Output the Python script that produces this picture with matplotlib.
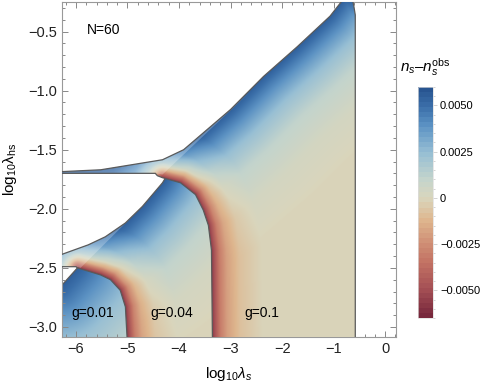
import numpy as np
import matplotlib
matplotlib.use("Agg")
import matplotlib.pyplot as plt
from matplotlib.patches import Polygon
from matplotlib.colors import LinearSegmentedColormap, Normalize
from matplotlib.cm import ScalarMappable
from matplotlib.ticker import MultipleLocator

plt.rcParams['font.family'] = ['Liberation Sans', 'DejaVu Sans']
plt.rcParams['mathtext.fontset'] = 'custom'
plt.rcParams['mathtext.rm'] = 'Liberation Sans'
plt.rcParams['mathtext.it'] = 'Liberation Sans:italic'

# colour scale (n_s - n_s^obs)
cbar_vals = [-0.0065, -0.0050, -0.0035, -0.0025, -0.0012, 0.0, 0.0010, 0.0025, 0.0040, 0.0050, 0.0060]
cbar_rgb = [(120, 40, 60), (165, 80, 85), (195, 115, 100), (207, 142, 117), (222, 182, 142),
            (217, 214, 189), (196, 212, 204), (150, 190, 212), (92, 146, 195), (60, 112, 170), (40, 85, 145)]
vmin, vmax = -0.0065, 0.0060

# how n_s - n_s^obs falls off away from the upper (blue) and lower (red) edges, distance in pixels
blue_dist = [0, 7, 18, 32, 52, 80, 115]
blue_val = [0.0060, 0.0052, 0.0040, 0.0026, 0.0013, 0.0005, 0.0001]
red_dist = [0, 3, 8, 15, 28, 50]
red_val = [-0.0058, -0.0048, -0.0032, -0.0020, -0.0009, -0.0002]

# g = 0.01 region
a_x = [-6.30, -5.97, -5.52, -4.90, -4.90, -6.30]
a_y = [-2.66, -2.50, -2.52, -2.60, -3.15, -3.15]
a_blue_x = [-6.30, -5.97]
a_blue_y = [-2.66, -2.50]
a_red_x = []
a_red_y = []

# g = 0.04 region
b_x = [-6.30, -5.76, -5.43, -5.04, -4.71, -4.32, -4.10, -3.20, -3.20,
       -5.00, -5.04, -5.14, -5.33, -5.52, -5.97, -6.00, -6.30]
b_y = [-2.39, -2.305, -2.237, -2.12, -1.98, -1.78, -1.62, -1.62, -3.15,
       -3.15, -2.83, -2.69, -2.60, -2.56, -2.50, -2.49, -2.49]
b_blue_x = [-6.30, -5.76, -5.43, -5.04, -4.71, -4.32, -4.10]
b_blue_y = [-2.39, -2.305, -2.237, -2.12, -1.98, -1.78, -1.62]
b_red_x = [-5.00, -5.04, -5.14, -5.33, -5.52, -5.97]
b_red_y = [-3.15, -2.83, -2.69, -2.60, -2.56, -2.50]

# g = 0.1 region
c_x = [-6.30, -5.52, -4.32, -3.91, -3.00, -2.36, -1.71, -1.07, -0.80, -0.64, -0.61, -0.58,
       -0.58, -3.35, -3.37, -3.43, -3.53, -3.68, -3.97, -4.32, -4.42, -4.46, -6.30]
c_y = [-1.686, -1.670, -1.585, -1.50, -1.16, -0.88, -0.63, -0.37, -0.22, -0.22, -0.28, -0.36,
       -3.15, -3.15, -2.35, -2.14, -2.01, -1.88, -1.78, -1.737, -1.72, -1.70, -1.70]
c_blue_x = [-6.30, -5.52, -4.32, -3.91, -3.00, -2.36, -1.71, -1.07, -0.80, -0.64]
c_blue_y = [-1.686, -1.670, -1.585, -1.50, -1.16, -0.88, -0.63, -0.37, -0.22, -0.22]
c_red_x = [-3.35, -3.37, -3.43, -3.53, -3.68, -3.97, -4.32]
c_red_y = [-3.15, -2.35, -2.14, -2.01, -1.88, -1.78, -1.737]

# lighter translucent slivers of the g=0.04 and g=0.1 regions
sliver_b_x = [-6.30, -5.76, -5.43, -5.04, -4.71, -5.91, -6.00, -6.30]
sliver_b_y = [-2.39, -2.305, -2.237, -2.12, -1.98, -2.50, -2.49, -2.49]
sliver_c_x = [-6.30, -5.52, -4.32, -3.91, -3.00, -2.62, -4.32, -4.46, -6.30]
sliver_c_y = [-1.686, -1.670, -1.585, -1.50, -1.16, -1.01, -1.71, -1.70, -1.70]

labels = ['g=0.01', 'g=0.04', 'g=0.1']
label_x = [-5.68, -4.15, -2.40]
label_y = [-2.88, -2.88, -2.88]

xlim = (-6.27, 0.21)
ylim = (-3.085, -0.25)
ax_w, ax_h = 334, 335  # axes size in pixels

cmap = LinearSegmentedColormap.from_list(
    'rbt', [((v - vmin) / (vmax - vmin), tuple(c / 255 for c in rgb)) for v, rgb in zip(cbar_vals, cbar_rgb)])
norm = Normalize(vmin, vmax)

sx = ax_w / (xlim[1] - xlim[0])
sy = ax_h / (ylim[1] - ylim[0])
gx, gy = np.meshgrid(np.linspace(xlim[0], xlim[1], 2 * ax_w), np.linspace(ylim[0], ylim[1], 2 * ax_h))


def dist_to_line(lx, ly):
    # pixel distance from every grid point to a polyline
    if len(lx) < 2:
        return np.full(gx.shape, 1e9)
    px, py = gx * sx, gy * sy
    best = np.full(gx.shape, 1e9)
    for i in range(len(lx) - 1):
        x0, y0, x1, y1 = lx[i] * sx, ly[i] * sy, lx[i + 1] * sx, ly[i + 1] * sy
        dx, dy = x1 - x0, y1 - y0
        t = np.clip(((px - x0) * dx + (py - y0) * dy) / (dx * dx + dy * dy), 0, 1)
        best = np.minimum(best, np.hypot(px - x0 - t * dx, py - y0 - t * dy))
    return best


fig = plt.figure(figsize=(4.87, 3.88), dpi=100)
ax = fig.add_axes([62 / 487, 1 - 337 / 388, ax_w / 487, ax_h / 388])

regions = [(a_x, a_y, a_blue_x, a_blue_y, a_red_x, a_red_y, 1.7),
           (b_x, b_y, b_blue_x, b_blue_y, b_red_x, b_red_y, 1.15),
           (c_x, c_y, c_blue_x, c_blue_y, c_red_x, c_red_y, 1.05)]
for k, (bx, by, blx, bly, rlx, rly, width) in enumerate(regions):
    blue = np.interp(dist_to_line(blx, bly) / width, blue_dist, blue_val)
    red = np.interp(dist_to_line(rlx, rly), red_dist, red_val)
    # close to the red edge the red side wins
    field = red + blue * (1 - red / red_val[0])
    clip = Polygon(np.column_stack([bx, by]), closed=True, facecolor='none', edgecolor='none')
    ax.add_patch(clip)
    im = ax.imshow(field, origin='lower', extent=(*xlim, *ylim), cmap=cmap, norm=norm,
                   interpolation='bilinear', aspect='auto', zorder=2 * k + 1)
    im.set_clip_path(clip)
    if k == 1:
        ax.add_patch(Polygon(np.column_stack([sliver_b_x, sliver_b_y]), closed=True,
                             facecolor='white', alpha=0.25, lw=0, zorder=2 * k + 1.2))
    if k == 2:
        ax.add_patch(Polygon(np.column_stack([sliver_c_x, sliver_c_y]), closed=True,
                             facecolor='white', alpha=0.25, lw=0, zorder=2 * k + 1.2))
    ax.add_patch(Polygon(np.column_stack([bx, by]), closed=True, fill=False, edgecolor='#5a5a5a',
                         lw=0.9, zorder=2 * k + 1.5))

for t, x, y in zip(labels, label_x, label_y):
    ax.text(x, y, t, ha='center', va='center', fontsize=10, zorder=8)
ax.text(-5.47, -0.49, 'N=60', ha='center', va='center', fontsize=10, zorder=8)

ax.set_xlim(*xlim)
ax.set_ylim(*ylim)
ax.xaxis.set_major_locator(MultipleLocator(1))
ax.xaxis.set_minor_locator(MultipleLocator(0.2))
ax.yaxis.set_major_locator(MultipleLocator(0.5))
ax.yaxis.set_minor_locator(MultipleLocator(0.1))
ax.tick_params(which='both', direction='in', top=True, right=True, color='#888888',
               labelsize=10.5, labelcolor='#222222', width=0.7)
ax.tick_params(which='major', length=4.5)
ax.tick_params(which='minor', length=2.5)
for s in ax.spines.values():
    s.set_color('#999999')
    s.set_linewidth(0.8)
ax.set_xlabel(r'log$_{10}\lambda_s$', fontsize=11)
ax.set_ylabel(r'log$_{10}$λ$_{\rm hs}$', fontsize=11)
ax.xaxis.set_label_coords(0.5, -0.085)
ax.yaxis.set_label_coords(-0.128, 0.5)

cax = fig.add_axes([418 / 487, 1 - 318 / 388, 15 / 487, 231 / 388])
cb = fig.colorbar(ScalarMappable(norm=norm, cmap=cmap.resampled(46)), cax=cax)
cb.set_ticks([0.005, 0.0025, 0.0, -0.0025, -0.005])
cb.set_ticklabels(['0.0050', '0.0025', '0', '\u22120.0025', '\u22120.0050'])
cb.ax.yaxis.set_minor_locator(MultipleLocator(0.0005))
cb.ax.tick_params(which='both', labelsize=8, color='#cccccc', width=0.6, pad=2)
cb.ax.tick_params(which='major', length=3)
cb.ax.tick_params(which='minor', length=1.5)
cb.outline.set_edgecolor('#dddddd')
cb.outline.set_linewidth(0.5)
fig.text(425 / 487, 1 - 67 / 388, r'$n_s$–$n_s^{\rm obs}$', ha='center', va='center', fontsize=11)

fig.savefig('out.png', dpi=100)
